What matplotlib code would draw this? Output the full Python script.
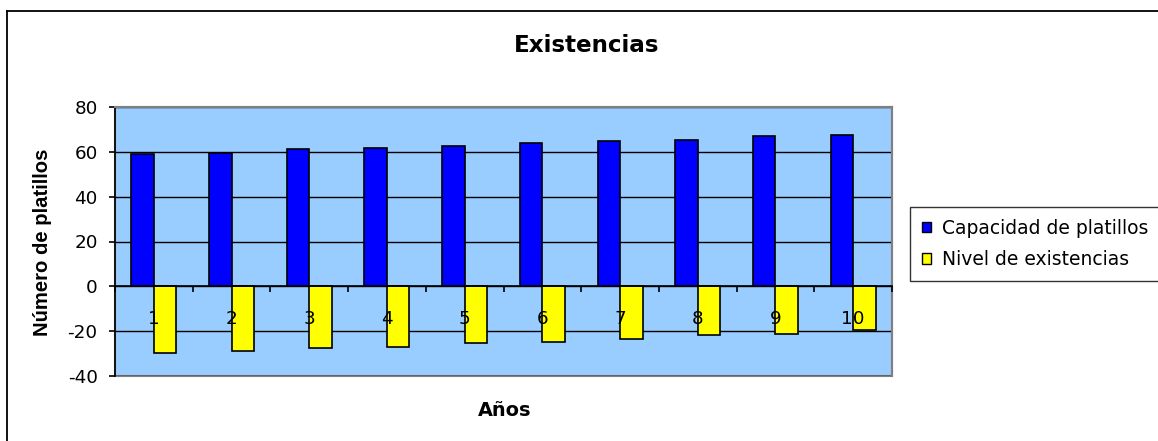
import matplotlib
matplotlib.use("Agg")
import matplotlib.pyplot as plt
from matplotlib.patches import Patch
from matplotlib.lines import Line2D
import numpy as np

# Data
years = ["1", "2", "3", "4", "5", "6", "7", "8", "9", "10"]
capacidad = [59.1, 59.7, 61.2, 61.9, 62.6, 64.1, 64.7, 65.5, 66.9, 67.7]
existencias = [-29.6, -28.9, -27.4, -26.9, -25.4, -24.7, -23.4, -21.9, -21.2, -19.7]
y_ticks = [-40, -20, 0, 20, 40, 60, 80]

W, H = 1158, 441
fig = plt.figure(figsize=(W / 100, H / 100), dpi=100)
fig.patch.set_facecolor("white")

# Plot area in pixel terms
left, right, top, bottom = 115, 892, 107, 376
ax = fig.add_axes([left / W, 1 - bottom / H, (right - left) / W, (bottom - top) / H])
ax.set_facecolor("#99CCFF")
ax.patch.set_edgecolor("#808080")
ax.patch.set_linewidth(1.5)

x = np.arange(len(years))
bw = 0.29
ax.bar(x - bw / 2, capacidad, width=bw, color="#0000FF", edgecolor="black",
       linewidth=1.2, zorder=2, label="Capacidad de platillos")
ax.bar(x + bw / 2, existencias, width=bw, color="#FFFF00", edgecolor="black",
       linewidth=1.2, zorder=2, label="Nivel de existencias")

# Horizontal gridlines behind the bars
ax.hlines(y_ticks, -0.5, len(years) - 0.5, colors="black", linewidth=1.0, zorder=0.8)

ax.set_xlim(-0.5, len(years) - 0.5)
ax.set_ylim(-40, 80)

# Spines
ax.spines["top"].set_color("#808080")
ax.spines["right"].set_color("#808080")
ax.spines["top"].set_linewidth(1.5)
ax.spines["right"].set_linewidth(1.5)
ax.spines["left"].set_color("black")
ax.spines["left"].set_linewidth(1.2)
ax.spines["bottom"].set_position(("data", 0))
ax.spines["bottom"].set_color("black")
ax.spines["bottom"].set_linewidth(1.2)

tick_font = dict(family="DejaVu Sans", size=13.2)
ax.set_yticks(y_ticks)
ax.set_yticklabels([str(v) for v in y_ticks], **tick_font)
ax.tick_params(axis="y", direction="out", length=4.5, width=1.2, pad=8, colors="black")

ax.set_xticks(x)
ax.set_xticklabels(years, **tick_font)
ax.set_xticks(np.arange(len(years) + 1) - 0.5, minor=True)
ax.tick_params(axis="x", which="major", length=0, pad=17)
ax.tick_params(axis="x", which="minor", direction="out", length=4.5, width=1.2)
for lbl in ax.get_xticklabels():
    lbl.set_zorder(5)
ax.xaxis.set_zorder(3)

# Titles
fig.text(587 / W, 1 - 45 / H, "Existencias", ha="center", va="center",
         fontsize=16.6, fontweight="bold", family="DejaVu Sans")
fig.text(505 / W, 1 - 411 / H, "Años", ha="center", va="center",
         fontsize=13.9, fontweight="bold", family="DejaVu Sans")
fig.text(43 / W, 1 - 242 / H, "Número de platillos", ha="center", va="center",
         rotation=90, fontsize=14.6, fontweight="bold", family="Liberation Sans")

# Legend
handles = [Patch(facecolor="#0000FF", edgecolor="black", linewidth=1.0),
           Patch(facecolor="#FFFF00", edgecolor="black", linewidth=1.0)]
leg = fig.legend(handles, ["Capacidad de platillos", "Nivel de existencias"],
                 loc="upper left", bbox_to_anchor=(910 / W, 1 - 207 / H),
                 bbox_transform=fig.transFigure,
                 prop=dict(family="DejaVu Sans", size=13.5),
                 handlelength=0.5, handleheight=0.5, handletextpad=0.6,
                 borderpad=0.62, labelspacing=0.68, borderaxespad=0,
                 frameon=True, fancybox=False, shadow=False)
leg.get_frame().set_edgecolor("black")
leg.get_frame().set_linewidth(1.0)

# Chart-area frame (top and left edges)
fx, fy = 6.5 / W, 1 - 10.5 / H
fig.add_artist(Line2D([fx, 1.0], [fy, fy], transform=fig.transFigure,
                      color="black", linewidth=1.3))
fig.add_artist(Line2D([fx, fx], [0.0, fy], transform=fig.transFigure,
                      color="black", linewidth=1.3))

fig.savefig("out.png", dpi=100, facecolor="white")
